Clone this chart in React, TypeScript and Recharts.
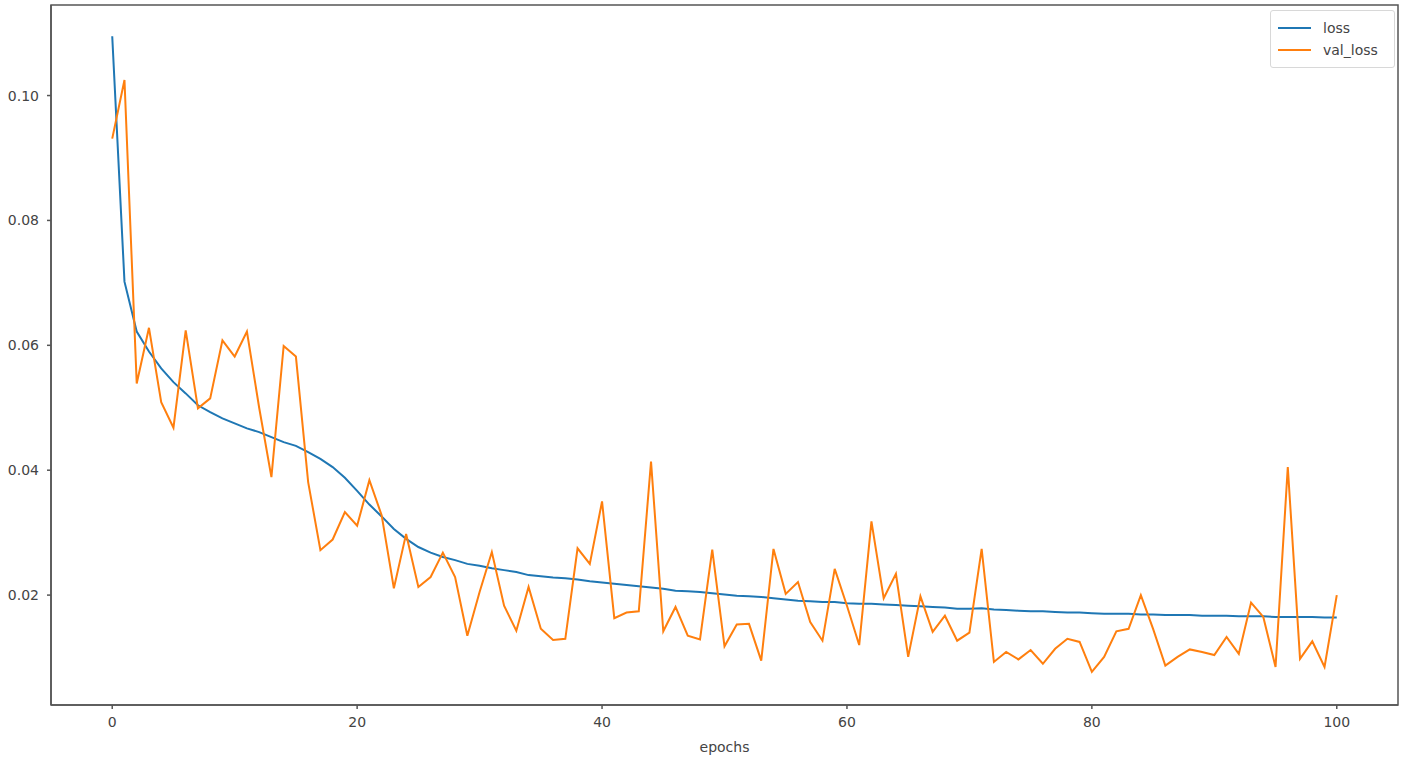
import React from 'react';
import { LineChart, Line, XAxis, YAxis, Legend, ReferenceArea } from 'recharts';

// loss per epoch (0..100)
const loss = [
  0.1095, 0.0702, 0.0622, 0.059, 0.0563, 0.0541, 0.0523, 0.0504, 0.0493, 0.0483,
  0.0475, 0.0467, 0.0461, 0.0453, 0.0445, 0.0439, 0.0429, 0.0418, 0.0405, 0.0388,
  0.0367, 0.0345, 0.0326, 0.0306, 0.029, 0.0277, 0.0268, 0.0261, 0.0256, 0.025,
  0.0247, 0.0243, 0.024, 0.0237, 0.0232, 0.023, 0.0228, 0.0227, 0.0225, 0.0222,
  0.022, 0.0218, 0.0216, 0.0214, 0.0212, 0.021, 0.0207, 0.0206, 0.0205, 0.0203,
  0.0201, 0.0199, 0.0198, 0.0197, 0.0195, 0.0193, 0.0191, 0.019, 0.0189, 0.0189,
  0.0187, 0.0186, 0.0186, 0.0185, 0.0184, 0.0183, 0.0182, 0.0181, 0.018, 0.0178,
  0.0178, 0.0179, 0.0177, 0.0176, 0.0175, 0.0174, 0.0174, 0.0173, 0.0172, 0.0172,
  0.0171, 0.017, 0.017, 0.017, 0.0169, 0.0169, 0.0168, 0.0168, 0.0168, 0.0167,
  0.0167, 0.0167, 0.0166, 0.0166, 0.0166, 0.0165, 0.0165, 0.0165, 0.0165, 0.0164,
  0.0164,
];

const valLoss = [
  0.0931, 0.1025, 0.0539, 0.0628, 0.0509, 0.0468, 0.0624, 0.0499, 0.0515, 0.0608,
  0.0582, 0.0622, 0.05, 0.0389, 0.0599, 0.0582, 0.0381, 0.0272, 0.0289, 0.0333,
  0.0311, 0.0384, 0.0328, 0.0211, 0.0298, 0.0213, 0.0229, 0.0268, 0.0229, 0.0135,
  0.0205, 0.0269, 0.0183, 0.0143, 0.0213, 0.0146, 0.0128, 0.013, 0.0275, 0.025,
  0.035, 0.0163, 0.0172, 0.0174, 0.0414, 0.0142, 0.0181, 0.0135, 0.0129, 0.0273,
  0.0118, 0.0153, 0.0154, 0.0095, 0.0274, 0.0202, 0.0221, 0.0157, 0.0127, 0.0242,
  0.0183, 0.012, 0.0318, 0.0195, 0.0234, 0.0101, 0.0198, 0.0141, 0.0167, 0.0127,
  0.014, 0.0274, 0.0093, 0.0109, 0.0097, 0.0112, 0.009, 0.0114, 0.013, 0.0125,
  0.0077, 0.0101, 0.0142, 0.0146, 0.02, 0.0146, 0.0087, 0.0101, 0.0113, 0.0109,
  0.0104, 0.0133, 0.0106, 0.0188, 0.0165, 0.0085, 0.0405, 0.0098, 0.0126, 0.0085,
  0.02,
];

const xTicks = [0, 20, 40, 60, 80, 100];
const yTicks = [0.02, 0.04, 0.06, 0.08, 0.1];
const xDomain = [-5, 105];
const yDomain = [0.0024, 0.1145];

const data = loss.map((v, i) => ({ epoch: i, loss: v, val_loss: valLoss[i] }));

const BLUE = '#1f77b4';
const ORANGE = '#ff7f0e';
const FRAME = '#555';
const TEXT = '#444';
const FONT = 'DejaVu Sans, sans-serif';

const LegendBox = () => (
  <div
    style={{
      width: 125,
      height: 58,
      border: '1px solid #d8d8d8',
      borderRadius: 3,
      background: '#fff',
      fontFamily: FONT,
      fontSize: 14,
      color: TEXT,
      boxSizing: 'border-box',
      padding: '6px 0 0 7px',
    }}
  >
    {[
      { name: 'loss', color: BLUE },
      { name: 'val_loss', color: ORANGE },
    ].map((item) => (
      <div key={item.name} style={{ display: 'flex', alignItems: 'center', height: 22 }}>
        <div style={{ width: 33, height: 2, background: item.color, marginRight: 12 }} />
        <span>{item.name}</span>
      </div>
    ))}
  </div>
);

export default function App() {
  return (
    <div style={{ position: 'absolute', left: 0, top: 0, width: 1405, height: 759, background: '#fff' }}>
      <LineChart
        width={1405}
        height={759}
        data={data}
        margin={{ top: 5, right: 7, bottom: 0, left: 0 }}
      >
        <XAxis
          dataKey="epoch"
          type="number"
          domain={xDomain}
          ticks={xTicks}
          allowDataOverflow
          height={54}
          stroke={FRAME}
          strokeWidth={1.5}
          tickSize={4}
          tickMargin={8}
          tick={{ fontSize: 14, fill: TEXT, fontFamily: FONT }}
          label={{ value: 'epochs', position: 'insideBottom', offset: 7, fontSize: 14, fill: TEXT, fontFamily: FONT }}
        />
        <YAxis
          type="number"
          domain={yDomain}
          ticks={yTicks}
          allowDataOverflow
          width={51}
          stroke={FRAME}
          strokeWidth={1.5}
          tickSize={4}
          tickMargin={8}
          tickFormatter={(v: number) => v.toFixed(2)}
          tick={{ fontSize: 14, fill: TEXT, fontFamily: FONT }}
        />
        {/* axes frame, as in matplotlib */}
        <ReferenceArea
          x1={xDomain[0]}
          x2={xDomain[1]}
          y1={yDomain[0]}
          y2={yDomain[1]}
          fill="none"
          stroke={FRAME}
          strokeWidth={1.5}
          ifOverflow="visible"
        />
        {/* centered + middle so the legend does not shrink the plot area */}
        <Legend
          layout="horizontal"
          align="center"
          verticalAlign="middle"
          wrapperStyle={{ top: 10, left: 1270, width: 125 }}
          content={() => <LegendBox />}
        />
        <Line
          dataKey="loss"
          stroke={BLUE}
          strokeWidth={2}
          dot={false}
          isAnimationActive={false}
        />
        <Line
          dataKey="val_loss"
          stroke={ORANGE}
          strokeWidth={2}
          dot={false}
          isAnimationActive={false}
        />
      </LineChart>
    </div>
  );
}
